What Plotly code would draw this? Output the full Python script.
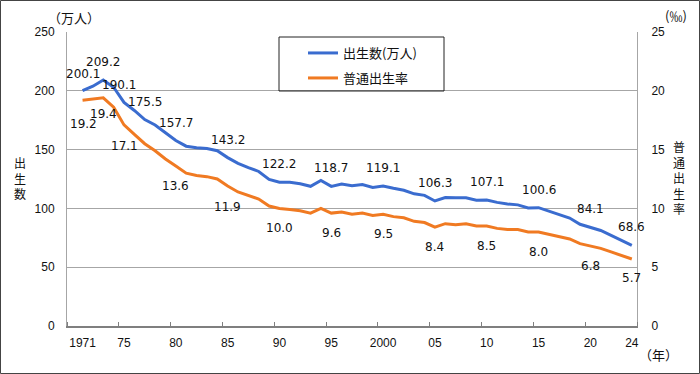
import plotly.graph_objects as go

years = list(range(1971, 2025))
births = [200.1, 203.9, 209.2, 203.0, 190.1, 183.3, 175.5, 170.9, 164.3, 157.7,
          152.9, 151.5, 150.9, 149.0, 143.2, 138.3, 134.7, 131.4, 124.7, 122.2,
          122.3, 120.9, 118.8, 123.8, 118.7, 120.7, 119.2, 120.3, 117.8, 119.1,
          117.1, 115.4, 112.4, 111.1, 106.3, 109.3, 109.0, 109.1, 107.0, 107.1,
          105.1, 103.7, 103.0, 100.4, 100.6, 97.7, 94.6, 91.8, 86.5, 84.1,
          81.2, 77.1, 72.7, 68.6]
rate = [19.2, 19.3, 19.4, 18.6, 17.1, 16.3, 15.5, 14.9, 14.2, 13.6,
        13.0, 12.8, 12.7, 12.5, 11.9, 11.4, 11.1, 10.8, 10.2, 10.0,
        9.9, 9.8, 9.6, 10.0, 9.6, 9.7, 9.5, 9.6, 9.4, 9.5,
        9.3, 9.2, 8.9, 8.8, 8.4, 8.7, 8.6, 8.7, 8.5, 8.5,
        8.3, 8.2, 8.2, 8.0, 8.0, 7.8, 7.6, 7.4, 7.0, 6.8,
        6.6, 6.3, 6.0, 5.7]
label_years_births = [1971, 1973, 1975, 1977, 1980, 1985, 1990, 1995, 2000, 2005, 2010, 2015, 2020, 2024]
label_years_rate = [1971, 1973, 1975, 1980, 1985, 1990, 1995, 2000, 2005, 2010, 2015, 2020, 2024]
xtick_years = [1971, 1975, 1980, 1985, 1990, 1995, 2000, 2005, 2010, 2015, 2020, 2024]
xtick_text = ["1971", "75", "80", "85", "90", "95", "2000", "05", "10", "15", "20", "24"]
series_names = ["出生数(万人)", "普通出生率"]

BLUE = "#3a6ccf"
ORANGE = "#f07a22"
NUM_FONT = "DejaVu Sans"
TICK_FONT = "Liberation Sans"
CJK = "Noto Sans CJK JP"

fig = go.Figure()
fig.add_trace(go.Scatter(x=years, y=births, mode="lines", name=series_names[0],
                         line=dict(color=BLUE, width=3), yaxis="y", legend="legend"))
fig.add_trace(go.Scatter(x=years, y=rate, mode="lines", name=series_names[1],
                         line=dict(color=ORANGE, width=3), yaxis="y2", legend="legend2"))

ann = []
b_shift = {1971: (0, 17), 1975: (-5, 17)}
for yr in label_years_births:
    v = births[years.index(yr)]
    xs, ys = b_shift.get(yr, (0, 18))
    ann.append(dict(x=yr, y=v, xref="x", yref="y", text=f"{v:.1f}", showarrow=False,
                    xshift=xs, yshift=ys, font=dict(family=NUM_FONT, size=12, color="#111")))
r_shift = {1971: (1, -24), 1973: (0, -16), 1975: (0, -21), 1985: (0, -21), 2024: (0, -19)}
for yr in label_years_rate:
    v = rate[years.index(yr)]
    xs, ys = r_shift.get(yr, (0, -20))
    ann.append(dict(x=yr, y=v, xref="x", yref="y2", text=f"{v:.1f}", showarrow=False,
                    xshift=xs, yshift=ys, font=dict(family=NUM_FONT, size=12, color="#111")))

W, H = 700, 374
L, R, T, B = 67, 63, 32, 48
PW, PH = W - L - R, H - T - B


def px(xp):
    return (xp - L) / PW


def py(yp):
    return (H - B - yp) / PH


def text_at(x, y, s, size=13, family=CJK):
    ann.append(dict(x=px(x), y=py(y), xref="paper", yref="paper", text=s, showarrow=False,
                    xanchor="center", yanchor="middle", font=dict(family=family, size=size, color="#111")))


text_at(74, 17, "（万人）", 13)
text_at(676, 16, "(‰)", 13)
text_at(659, 354, "（年）", 13)
text_at(20, 178, "<br>".join("出生数"), 12)
text_at(679, 177, "<br>".join("普通出生率"), 12)

shapes = [
    dict(type="rect", xref="paper", yref="paper", x0=px(279), x1=px(444), y0=py(91), y1=py(37),
         line=dict(color="#222", width=1)),
    dict(type="rect", xref="paper", yref="paper", x0=px(0.5), x1=px(699.5), y0=py(373.5), y1=py(0.5),
         line=dict(color="#444", width=1)),
]

fig.update_layout(
    width=W, height=H,
    margin=dict(l=L, r=R, t=T, b=B, pad=0),
    paper_bgcolor="white", plot_bgcolor="white",
    showlegend=True,
    legend=dict(x=px(303), y=py(53), xanchor="left", yanchor="middle",
                font=dict(family=CJK, size=13, color="#111"), bgcolor="rgba(0,0,0,0)"),
    legend2=dict(x=px(303), y=py(78), xanchor="left", yanchor="middle",
                 font=dict(family=CJK, size=13, color="#111"), bgcolor="rgba(0,0,0,0)"),
    xaxis=dict(range=[1969.5, 2024.5], tickvals=xtick_years, ticktext=xtick_text, ticks="",
               showgrid=False, showline=True, linecolor="#7f7f7f", linewidth=1.5,
               tickfont=dict(family=TICK_FONT, size=12, color="#111"), ticklabelstandoff=5,
               minor=dict(tickvals=[1969.5 + 5 * k for k in range(12)], ticks="inside", ticklen=4,
                          tickcolor="#7f7f7f", showgrid=False),
               zeroline=False),
    yaxis=dict(range=[0, 250], dtick=50, showgrid=True, gridcolor="#a6a6a6", gridwidth=1,
               showline=True, linecolor="#a6a6a6", linewidth=1, zeroline=False, ticks="",
               tickfont=dict(family=TICK_FONT, size=12, color="#111"), ticklabelstandoff=9),
    yaxis2=dict(range=[0, 25], dtick=5, overlaying="y", side="right", showgrid=False,
                showline=True, linecolor="#a6a6a6", linewidth=1, zeroline=False, ticks="",
                tickfont=dict(family=TICK_FONT, size=12, color="#111"), ticklabelstandoff=11),
    annotations=ann,
    shapes=shapes,
)

fig.write_html("out.html", config={"displayModeBar": False},
               post_script="document.body.style.margin='0';document.body.style.overflow='hidden';")
